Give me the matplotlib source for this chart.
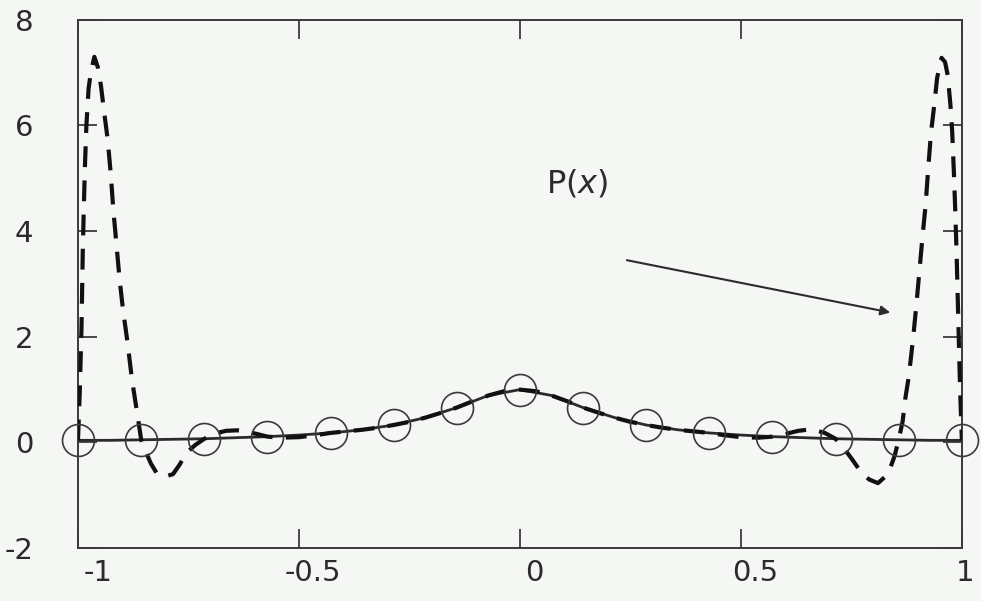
import numpy as np
import matplotlib
matplotlib.use('Agg')
import matplotlib.pyplot as plt
import matplotlib.transforms as mtransforms

plt.rcParams['axes.unicode_minus'] = False
plt.rcParams['font.family'] = 'DejaVu Sans'

# sample nodes (circles)
node_x = np.linspace(-1, 1, 15)
node_y = [0.04, 0.05, 0.07, 0.11, 0.18, 0.33, 0.65, 1.0,
          0.66, 0.33, 0.18, 0.11, 0.07, 0.05, 0.04]

# solid curve (the function itself)
curve_x = np.linspace(-1, 1, 29)
curve_y = [0.04, 0.04, 0.05, 0.06, 0.07, 0.09, 0.11, 0.14, 0.18, 0.24,
           0.33, 0.47, 0.66, 0.89, 1.0, 0.89, 0.66, 0.47, 0.33, 0.24,
           0.18, 0.14, 0.11, 0.09, 0.07, 0.06, 0.05, 0.04, 0.04]

# dashed curve P(x), read point by point
dash_x = [-1.0, -0.996, -0.992, -0.989, -0.986, -0.984, -0.981, -0.976, -0.971,
          -0.963, -0.955, -0.948, -0.940, -0.933, -0.926, -0.920, -0.913, -0.906,
          -0.898, -0.888, -0.878, -0.866, -0.857, -0.848, -0.835, -0.822, -0.805,
          -0.785, -0.770, -0.755, -0.735, -0.714, -0.69, -0.665, -0.64, -0.615,
          -0.59, -0.571, -0.54, -0.50, -0.46, -0.429, -0.393, -0.357, -0.321,
          -0.286, -0.25, -0.214, -0.179, -0.143, -0.107, -0.071, -0.036, 0.0,
          0.036, 0.071, 0.107, 0.143, 0.179, 0.214, 0.25, 0.286, 0.321, 0.357,
          0.393, 0.429, 0.46, 0.50, 0.54, 0.571, 0.60, 0.63, 0.66, 0.69, 0.714,
          0.732, 0.75, 0.77, 0.79, 0.81, 0.833, 0.848, 0.857, 0.866, 0.872,
          0.879, 0.884, 0.890, 0.897, 0.904, 0.911, 0.918, 0.924, 0.930, 0.937,
          0.944, 0.954, 0.962, 0.968, 0.974, 0.978, 0.982, 0.985, 0.988, 0.992,
          0.996, 1.0]
dash_y = [0.04, 0.95, 2.2, 3.7, 4.7, 5.3, 6.0, 6.7, 7.0,
          7.3, 7.1, 6.75, 6.2, 5.75, 5.1, 4.4, 3.75, 3.1,
          2.5, 1.9, 1.2, 0.55, 0.05, -0.15, -0.4, -0.58, -0.65,
          -0.6, -0.42, -0.2, -0.05, 0.07, 0.17, 0.22, 0.23, 0.2,
          0.15, 0.11, 0.09, 0.1, 0.14, 0.18, 0.21, 0.24, 0.28,
          0.33, 0.39, 0.47, 0.56, 0.66, 0.78, 0.89, 0.97, 1.0,
          0.97, 0.89, 0.78, 0.66, 0.56, 0.47, 0.39, 0.33, 0.28, 0.24,
          0.21, 0.18, 0.14, 0.1, 0.09, 0.11, 0.16, 0.22, 0.25, 0.18, 0.07,
          -0.1, -0.3, -0.54, -0.7, -0.77, -0.6, -0.25, 0.05, 0.4, 0.83,
          1.2, 1.55, 2.0, 2.6, 3.25, 3.9, 4.5, 5.2, 5.85, 6.35,
          6.9, 7.28, 7.2, 6.95, 6.4, 5.9, 5.1, 4.4, 3.6, 2.3,
          1.0, 0.04]

ink = '#2b2b2b'
paper = '#f5f7f4'

fig = plt.figure(figsize=(9.81, 6.01), dpi=100, facecolor=paper)
ax = fig.add_axes([0.0795, 0.088, 0.901, 0.879])
ax.set_facecolor(paper)

ax.plot(curve_x, curve_y, color=ink, lw=2.0, zorder=2)
ax.plot(dash_x, dash_y, color='#111111', lw=3.0, dashes=(5, 3.2), zorder=3)
ax.plot(node_x, node_y, 'o', ms=23, mfc='none', mec='#3a3a3a', mew=1.2,
        zorder=4, clip_on=False)

ax.text(0.13, 4.9, 'P($x$)', ha='center', va='center', fontsize=23, color=ink)
ax.annotate('', xy=(0.838, 2.46), xytext=(0.242, 3.45),
            arrowprops=dict(arrowstyle='-|>', lw=1.5, color=ink,
                            mutation_scale=14, shrinkA=0, shrinkB=0))

ax.set_xlim(-1, 1)
ax.set_ylim(-2, 8)
ax.set_xticks([-1, -0.5, 0, 0.5, 1])
ax.set_xticklabels(['-1', '-0.5', '0', '0.5', '1'])
ax.set_yticks([-2, 0, 2, 4, 6, 8])
ax.tick_params(axis='both', direction='in', length=14, width=1.2, color=ink,
               top=True, right=True, labelsize=21, labelcolor=ink)
ax.tick_params(axis='y', pad=32)
ax.tick_params(axis='x', pad=8)
for s in ax.spines.values():
    s.set_color('#3a3a3a')
    s.set_linewidth(1.4)

# x labels sit a little to the right of their ticks in the original
shifts_px = [20, 14, 14, 14, 3]
for lab, dx in zip(ax.get_xticklabels(), shifts_px):
    off = mtransforms.ScaledTranslation(dx / 100, 0, fig.dpi_scale_trans)
    lab.set_transform(lab.get_transform() + off)

fig.savefig('out.png', dpi=100, facecolor=paper)
